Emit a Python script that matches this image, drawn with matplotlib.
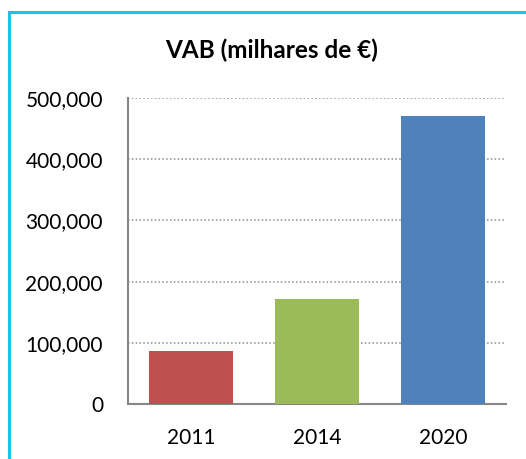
import matplotlib.pyplot as plt
from matplotlib.lines import Line2D
from matplotlib.ticker import FuncFormatter

# dados
anos = ['2011', '2014', '2020']
vab = [86500, 171500, 470500]
cores = ['#C0504D', '#9BBB59', '#4F81BD']

plt.rcParams['font.family'] = ['Lato', 'DejaVu Sans']

W, H = 526, 459
fig = plt.figure(figsize=(W / 100, H / 100), dpi=100)
ax = fig.add_axes([128 / W, 1 - 404 / H, (506 - 128) / W, (404 - 98) / H])

x = range(len(anos))
ax.bar(x, vab, width=0.67, color=cores, zorder=3)
ax.set_xlim(-0.5, 2.5)
ax.set_ylim(0, 500000)
ax.set_yticks(range(0, 500001, 100000))
ax.yaxis.set_major_formatter(FuncFormatter(lambda v, p: f'{int(v):,}'))
ax.set_xticks(list(x))
ax.set_xticklabels(anos)
ax.tick_params(length=0, labelsize=15, colors='black')
ax.tick_params(axis='y', pad=18)
ax.tick_params(axis='x', pad=17)
ax.grid(axis='y', linestyle=(0, (1, 1.5)), color='#8c8c8c', linewidth=1.1, zorder=0)
for s in ['top', 'right']:
    ax.spines[s].set_visible(False)
for s in ['left', 'bottom']:
    ax.spines[s].set_color('#868686')
    ax.spines[s].set_linewidth(1.5)

fig.text(272 / W, 1 - 50 / H, 'VAB (milhares de €)', ha='center', va='center',
         fontsize=17.5, fontweight='bold')

# moldura azul
c = '#1FBFF2'
fig.add_artist(Line2D([9.5 / W, 9.5 / W], [0, 1 - 12 / H], transform=fig.transFigure,
                      color=c, linewidth=2.2))
fig.add_artist(Line2D([9.5 / W, 1], [1 - 12 / H, 1 - 12 / H], transform=fig.transFigure,
                      color=c, linewidth=2.2))

fig.savefig('out.png', dpi=100)
